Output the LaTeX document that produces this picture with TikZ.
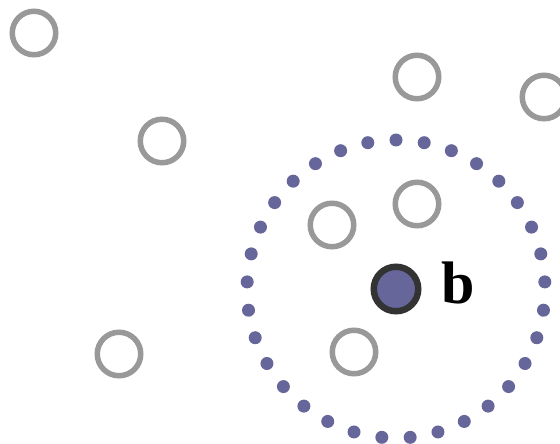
\documentclass[tikz,border=0pt]{standalone}
\usepackage{fontspec}
\setmainfont{Liberation Serif}
\usetikzlibrary{positioning}
\definecolor{PointGray}{HTML}{999999}
\definecolor{QueryBlue}{HTML}{66669A}
\definecolor{QueryRim}{HTML}{333333}

\begin{document}
\begin{tikzpicture}[x=1pt,y=-1pt,
    point/.style={draw=PointGray,line width=5.5pt,circle,minimum size=43.5pt,inner sep=0pt},
    query/.style={draw=QueryRim,fill=QueryBlue,line width=6.5pt,circle,minimum size=44.5pt,inner sep=0pt}]
      \clip (0,0) rectangle (560,444);
      \node[point] (p1) at (34,33) {};
      \node[point] (p2) at (162,141) {};
      \node[point] (p3) at (417,77) {};
      \node[point] (p4) at (544,97) {};
      \node[point] (p5) at (417,204) {};
      \node[point] (p6) at (332,225) {};
      \node[point] (p7) at (119,354) {};
      \node[point] (p8) at (354,352) {};
      \node[query] (b) at (396,289) {};
      \node[font=\fontsize{60}{60}\selectfont\bfseries,inner sep=0pt,right=20pt of b,yshift=6pt] (lb) {b};
      % dotted neighbourhood round b
      \foreach \k in {0,...,32}
        \fill[QueryBlue,shift={(b)}] ({90-\k*360/33}:149pt) circle (6.5pt);
    \end{tikzpicture}
\end{document}
